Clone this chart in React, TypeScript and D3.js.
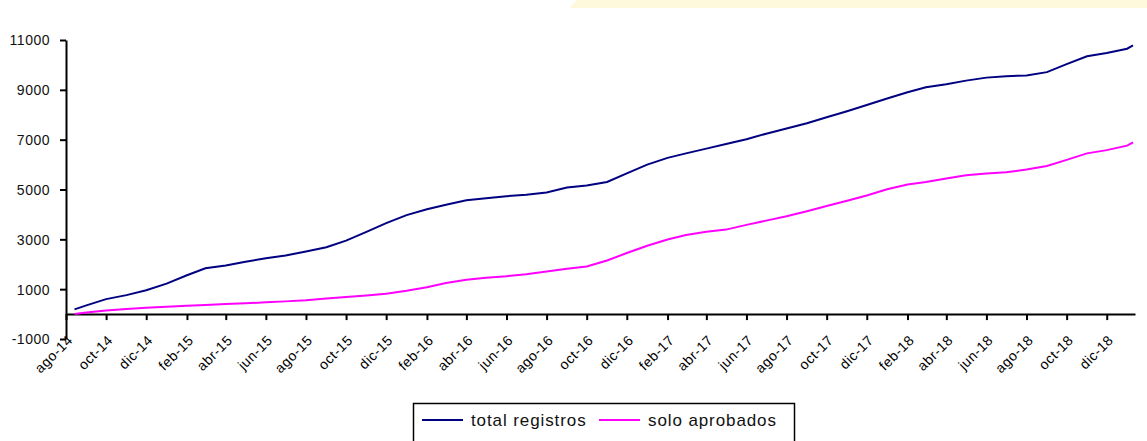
import * as React from 'react'
import * as d3 from 'd3'

// monthly totals
const dates = [
    '2014-08-14', '2014-09-01', '2014-10-01', '2014-11-01', '2014-12-01',
    '2015-01-01', '2015-02-01', '2015-03-01', '2015-04-01', '2015-05-01', '2015-06-01',
    '2015-07-01', '2015-08-01', '2015-09-01', '2015-10-01', '2015-11-01', '2015-12-01',
    '2016-01-01', '2016-02-01', '2016-03-01', '2016-04-01', '2016-05-01', '2016-06-01',
    '2016-07-01', '2016-08-01', '2016-09-01', '2016-10-01', '2016-11-01', '2016-12-01',
    '2017-01-01', '2017-02-01', '2017-03-01', '2017-04-01', '2017-05-01', '2017-06-01',
    '2017-07-01', '2017-08-01', '2017-09-01', '2017-10-01', '2017-11-01', '2017-12-01',
    '2018-01-01', '2018-02-01', '2018-03-01', '2018-04-01', '2018-05-01', '2018-06-01',
    '2018-07-01', '2018-08-01', '2018-09-01', '2018-10-01', '2018-11-01', '2018-12-01',
    '2019-01-01', '2019-01-10',
]

const totalRegistros = [
    190, 350, 600, 760, 960,
    1220, 1560, 1840, 1950, 2100, 2240,
    2350, 2510, 2680, 2950, 3300, 3650,
    3970, 4210, 4390, 4570, 4650, 4730,
    4790, 4880, 5080, 5160, 5300, 5650,
    6000, 6270, 6450, 6640, 6830, 7020,
    7240, 7450, 7660, 7900, 8140, 8390,
    8650, 8900, 9100, 9220, 9370, 9490,
    9550, 9580, 9710, 10030, 10350, 10480,
    10650, 10780,
]

const soloAprobados = [
    0, 60, 140, 200, 250,
    290, 330, 360, 400, 430, 470,
    510, 560, 630, 690, 750, 820,
    940, 1080, 1250, 1380, 1460, 1520,
    1600, 1710, 1820, 1910, 2150, 2450,
    2740, 2990, 3170, 3300, 3390, 3580,
    3750, 3930, 4130, 4340, 4550, 4760,
    5010, 5200, 5300, 5440, 5570, 5640,
    5690, 5800, 5940, 6190, 6450, 6580,
    6760, 6890,
]

const xTickLabels = [
    'ago-14', 'oct-14', 'dic-14', 'feb-15', 'abr-15', 'jun-15', 'ago-15', 'oct-15', 'dic-15',
    'feb-16', 'abr-16', 'jun-16', 'ago-16', 'oct-16', 'dic-16', 'feb-17', 'abr-17', 'jun-17',
    'ago-17', 'oct-17', 'dic-17', 'feb-18', 'abr-18', 'jun-18', 'ago-18', 'oct-18', 'dic-18',
]

const yTicks = [-1000, 1000, 3000, 5000, 7000, 9000, 11000]

const seriesNames = ['total registros', 'solo aprobados']
const seriesColors = ['#000080', '#ff00ff']

const monthIdx: { [k: string]: number } = {
    ene: 0, feb: 1, mar: 2, abr: 3, may: 4, jun: 5, jul: 6, ago: 7, sep: 8, oct: 9, nov: 10, dic: 11,
}
const labelToDate = (s: string) => {
    const [m, y] = s.split('-')
    return new Date(2000 + +y, monthIdx[m], 1)
}

const W = 1147
const H = 441
const FONT = '"Liberation Sans", Arial, sans-serif'

export default function App() {
    const ref = React.useRef<SVGSVGElement | null>(null)

    React.useEffect(() => {
        if (!ref.current) return
        const svg = d3.select(ref.current)
        svg.selectAll('*').remove()

        const parse = d3.timeParse('%Y-%m-%d')
        const pts = dates.map((d, i) => ({ t: parse(d) as Date, a: totalRegistros[i], b: soloAprobados[i] }))

        const x = d3.scaleTime()
            .domain([new Date(2014, 7, 1), new Date(2019, 0, 13)])
            .range([66, 1135])
        const y = d3.scaleLinear()
            .domain([-1000, 11000])
            .range([339, 40])

        svg.append('rect').attr('width', W).attr('height', H).attr('fill', '#fff')

        // yellow band at top right
        svg.append('path')
            .attr('d', 'M578,0 L1147,0 L1147,8 L570,8 Q573,2 578,0 Z')
            .attr('fill', '#fef8dc')

        // y axis
        const gy = svg.append('g')
            .attr('transform', `translate(${x.range()[0]},0)`)
            .call(d3.axisLeft(y).tickValues(yTicks).tickSize(6).tickSizeOuter(0).tickFormat(d => String(d)))
        gy.select('.domain').attr('stroke', '#000').attr('stroke-width', 2)
        gy.selectAll('.tick line').attr('stroke', '#000').attr('stroke-width', 2)
        gy.selectAll('.tick text')
            .attr('x', -16)
            .attr('dy', '0.35em')
            .attr('fill', '#111')
            .style('font-family', FONT)
            .style('font-size', '14px')
            .style('letter-spacing', '0.5px')

        // x axis at zero
        const gx = svg.append('g')
            .attr('transform', `translate(0,${y(0)})`)
            .call(d3.axisBottom(x).tickValues(xTickLabels.map(labelToDate)).tickSize(6).tickSizeOuter(0).tickFormat((_d, i) => xTickLabels[i]))
        gx.select('.domain').attr('stroke', '#000').attr('stroke-width', 2)
        gx.selectAll('.tick line').attr('stroke', '#000').attr('stroke-width', 2)
        gx.selectAll('.tick text')
            .attr('text-anchor', 'end')
            .attr('transform', 'translate(7,27) rotate(-45)')
            .attr('y', 0)
            .attr('dy', 0)
            .attr('fill', '#000')
            .style('font-family', FONT)
            .style('font-size', '14px')
            .style('letter-spacing', '0.5px')

        // lines
        const keys: ('a' | 'b')[] = ['a', 'b']
        keys.forEach((k, i) => {
            const line = d3.line<typeof pts[0]>()
                .x(d => x(d.t))
                .y(d => y(d[k]))
            svg.append('path')
                .datum(pts)
                .attr('fill', 'none')
                .attr('stroke', seriesColors[i])
                .attr('stroke-width', 2)
                .attr('d', line)
        })

        // legend
        const lg = svg.append('g')
        lg.append('rect')
            .attr('x', 413.5).attr('y', 403.5).attr('width', 381).attr('height', 40)
            .attr('fill', '#fff').attr('stroke', '#000').attr('stroke-width', 1.5)
        const legendX = [422, 599]
        seriesNames.forEach((name, i) => {
            lg.append('line')
                .attr('x1', legendX[i]).attr('x2', legendX[i] + 41)
                .attr('y1', 420).attr('y2', 420)
                .attr('stroke', seriesColors[i]).attr('stroke-width', 2)
            lg.append('text')
                .attr('x', legendX[i] + 49).attr('y', 426)
                .style('font-family', FONT)
                .style('font-size', '17px')
                .style('letter-spacing', '0.9px')
                .attr('fill', '#111')
                .text(name)
        })
    }, [])

    return (
        <svg ref={ref} width={W} height={H}
            style={{ position: 'absolute', left: 0, top: 0, display: 'block' }} />
    )
}
